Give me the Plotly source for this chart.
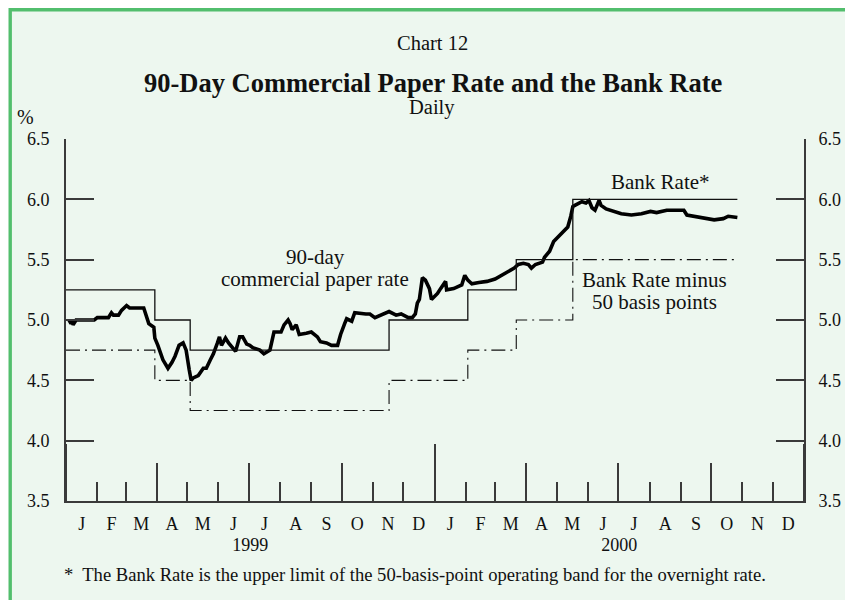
import plotly.graph_objects as go

# ---------------- data ----------------
cp_dates = [
    "1999-01-04", "1999-01-06", "1999-01-07", "1999-01-08", "1999-01-11", "1999-01-29",
    "1999-02-01", "1999-02-12", "1999-02-15", "1999-02-17", "1999-02-22", "1999-02-25",
    "1999-03-02", "1999-03-05", "1999-03-19", "1999-03-22", "1999-03-24", "1999-03-29",
    "1999-03-30", "1999-04-02", "1999-04-07", "1999-04-12", "1999-04-14", "1999-04-16",
    "1999-04-19", "1999-04-21", "1999-04-23", "1999-04-27", "1999-04-30", "1999-05-03",
    "1999-05-05", "1999-05-07", "1999-05-12", "1999-05-17", "1999-05-20", "1999-05-24",
    "1999-05-27", "1999-05-31", "1999-06-02", "1999-06-04", "1999-06-08", "1999-06-11",
    "1999-06-15", "1999-06-18", "1999-06-22", "1999-06-25", "1999-06-29", "1999-07-02",
    "1999-07-05", "1999-07-12", "1999-07-16", "1999-07-22", "1999-07-26", "1999-08-02",
    "1999-08-05", "1999-08-09", "1999-08-11", "1999-08-13", "1999-08-17", "1999-08-20",
    "1999-08-27", "1999-09-01", "1999-09-07", "1999-09-10", "1999-09-16", "1999-09-21",
    "1999-09-27", "1999-09-30", "1999-10-04", "1999-10-06", "1999-10-11", "1999-10-14",
    "1999-10-25", "1999-10-29", "1999-11-03", "1999-11-11", "1999-11-17", "1999-11-24",
    "1999-11-29", "1999-12-06", "1999-12-10", "1999-12-13", "1999-12-15", "1999-12-17",
    "1999-12-20", "1999-12-23", "1999-12-27", "1999-12-29", "2000-01-04", "2000-01-07",
    "2000-01-10", "2000-01-12", "2000-01-13", "2000-01-20", "2000-01-28", "2000-01-31",
    "2000-02-03", "2000-02-07", "2000-02-14", "2000-02-22", "2000-03-01", "2000-03-07",
    "2000-03-14", "2000-03-20", "2000-03-24", "2000-03-29", "2000-04-03", "2000-04-06",
    "2000-04-10", "2000-04-17", "2000-04-19", "2000-04-24", "2000-04-28", "2000-05-04",
    "2000-05-09", "2000-05-12", "2000-05-15", "2000-05-17", "2000-05-19", "2000-05-26",
    "2000-05-30", "2000-06-02", "2000-06-05", "2000-06-08", "2000-06-12", "2000-06-14",
    "2000-06-19", "2000-06-23", "2000-07-04", "2000-07-14", "2000-07-24", "2000-08-02",
    "2000-08-08", "2000-08-18", "2000-09-04", "2000-09-07", "2000-09-14", "2000-09-25",
    "2000-10-04", "2000-10-13", "2000-10-18", "2000-10-27",
]
cp_values = [
    5.00, 4.97, 5.00, 4.96, 5.00, 5.00,
    5.02, 5.02, 5.06, 5.04, 5.04, 5.08,
    5.12, 5.10, 5.10, 5.03, 4.97, 4.94,
    4.85, 4.79, 4.67, 4.60, 4.62, 4.65,
    4.70, 4.74, 4.79, 4.81, 4.75, 4.59,
    4.50, 4.52, 4.54, 4.60, 4.60, 4.67,
    4.72, 4.81, 4.86, 4.79, 4.85, 4.81,
    4.77, 4.74, 4.86, 4.86, 4.80, 4.79,
    4.77, 4.75, 4.72, 4.75, 4.90, 4.90,
    4.96, 5.00, 4.97, 4.92, 4.96, 4.88,
    4.89, 4.90, 4.86, 4.82, 4.81, 4.79,
    4.79, 4.88, 4.97, 5.01, 4.99, 5.06,
    5.05, 5.05, 5.02, 5.05, 5.07, 5.04,
    5.05, 5.02, 5.02, 5.05, 5.14, 5.17,
    5.35, 5.33, 5.26, 5.17, 5.22, 5.26,
    5.30, 5.32, 5.25, 5.26, 5.29, 5.37,
    5.33, 5.30, 5.31, 5.32, 5.34, 5.37,
    5.40, 5.43, 5.46, 5.47, 5.46, 5.43,
    5.46, 5.48, 5.52, 5.57, 5.65, 5.70,
    5.75, 5.77, 5.86, 5.94, 5.95, 5.98,
    5.97, 5.99, 5.93, 5.91, 5.99, 5.95,
    5.92, 5.91, 5.88, 5.87, 5.88, 5.90,
    5.89, 5.91, 5.91, 5.87, 5.86, 5.84,
    5.83, 5.84, 5.86, 5.85,
]

bank_dates = ["1999-01-01", "1999-03-30", "1999-05-04", "1999-11-17",
              "2000-02-03", "2000-03-22", "2000-05-17", "2000-10-27"]
bank_rate = [5.25, 5.00, 4.75, 5.00, 5.25, 5.50, 6.00, 6.00]
bank_minus50 = [4.75, 4.50, 4.25, 4.50, 4.75, 5.00, 5.50, 5.50]

y_ticks = [3.5, 4.0, 4.5, 5.0, 5.5, 6.0, 6.5]
month_alias = {"Jan": "J", "Feb": "F", "Mar": "M", "Apr": "A", "May": "M", "Jun": "J",
               "Jul": "J", "Aug": "A", "Sep": "S", "Oct": "O", "Nov": "N", "Dec": "D"}

# ---------------- layout helpers ----------------
# The page places the figure 8px from the top-left corner (body margin),
# so the figure is sized to fill the rest of the 853x600 window.
OFF = 8
W, H = 853 - OFF, 600 - OFF
# plot area in window pixels
L, R, T, B = 66, 812, 139, 501
def px(x):
    return (x - L) / (R - L)
def py(y):
    return (B - y) / (B - T)

FONT = "Liberation Serif"
INK = "#111111"
AX = "#3a3a3a"
BG = "#EDF7EF"
GREEN = "#52BE6D"
X_RANGE = ["1999-01-01", "2001-01-01"]
Y_RANGE = [3.5, 6.5]

fig = go.Figure()

fig.add_trace(go.Scatter(
    x=bank_dates, y=bank_minus50, mode="lines", line_shape="hv",
    line=dict(color=INK, width=1.1, dash="14px,5px,2px,5px"),
    xaxis="x3", yaxis="y", hoverinfo="skip", showlegend=False))
fig.add_trace(go.Scatter(
    x=bank_dates, y=bank_rate, mode="lines", line_shape="hv",
    line=dict(color=INK, width=1.3),
    xaxis="x2", yaxis="y2", hoverinfo="skip", showlegend=False))
fig.add_trace(go.Scatter(
    x=cp_dates, y=cp_values, mode="lines",
    line=dict(color="#000000", width=3.6),
    xaxis="x", yaxis="y", showlegend=False))

tickfont = dict(family=FONT, size=18, color=INK)

fig.update_layout(
    width=W, height=H,
    margin=dict(l=L - OFF, r=W - (R - OFF), t=T - OFF, b=H - (B - OFF), pad=0),
    paper_bgcolor="white", plot_bgcolor=BG,
    showlegend=False,
    xaxis=dict(type="date", range=X_RANGE, showgrid=False, zeroline=False,
               showline=True, linecolor=AX, linewidth=2,
               tick0="1999-01-01", dtick="M1", ticks="inside", ticklen=19,
               tickwidth=1.5, tickcolor=AX,
               tickformat="%b", ticklabelmode="period", labelalias=month_alias,
               tickfont=tickfont, ticklabelstandoff=5),
    xaxis2=dict(type="date", range=X_RANGE, overlaying="x", anchor="y", side="bottom",
                showgrid=False, zeroline=False, showline=False,
                tick0="1999-01-01", dtick="M3", ticks="inside", ticklen=38,
                tickwidth=1.5, tickcolor=AX, showticklabels=False),
    xaxis3=dict(type="date", range=X_RANGE, overlaying="x", anchor="y", side="bottom",
                showgrid=False, zeroline=False, showline=False,
                tick0="1999-01-01", dtick="M12", ticks="inside", ticklen=57,
                tickwidth=1.5, tickcolor=AX,
                tickformat="%Y", ticklabelmode="period",
                tickfont=tickfont, ticklabelstandoff=31),
    yaxis=dict(range=Y_RANGE, tickvals=y_ticks, tickformat=".1f",
               showgrid=False, zeroline=False, showline=True, linecolor=AX, linewidth=2,
               ticks="inside", ticklen=28, tickwidth=1.5, tickcolor=AX,
               tickfont=tickfont, ticklabelstandoff=11),
    yaxis2=dict(range=Y_RANGE, tickvals=y_ticks, tickformat=".1f", overlaying="y",
                side="right", anchor="x",
                showgrid=False, zeroline=False, showline=True, linecolor=AX, linewidth=2,
                ticks="inside", ticklen=28, tickwidth=1.5, tickcolor=AX,
                tickfont=tickfont, ticklabelstandoff=9),
)

# green frame with light background (extends past right/bottom edges)
fig.add_shape(type="rect", xref="paper", yref="paper",
              x0=px(9.6), x1=px(880), y0=py(640), y1=py(9.8),
              fillcolor=BG, line=dict(color=GREEN, width=3.4), layer="below")

def txt(text, x, y, size, xref="paper", yref="paper", bold=False):
    fig.add_annotation(text=f"<b>{text}</b>" if bold else text, x=x, y=y,
                       xref=xref, yref=yref, showarrow=False,
                       xanchor="center", yanchor="middle",
                       font=dict(family=FONT, size=size, color=INK))

txt("Chart 12", px(436), py(43), 20.5)
txt("90-Day Commercial Paper Rate and the Bank Rate", px(437), py(83), 26.5, bold=True)
txt("Daily", px(436), py(108), 20.5)
txt("%", px(25), py(117), 20)
txt("*  The Bank Rate is the upper limit of the 50-basis-point operating band for the overnight rate.",
    px(419), py(574), 18.6)

txt("90-day", "1999-09-05", 5.52, 21, xref="x", yref="y")
txt("commercial paper rate", "1999-09-05", 5.34, 21, xref="x", yref="y")
txt("Bank Rate*", "2000-08-12", 6.14, 21, xref="x", yref="y")
txt("Bank Rate minus", "2000-08-06", 5.33, 21, xref="x", yref="y")
txt("50 basis points", "2000-08-06", 5.15, 21, xref="x", yref="y")

fig.write_html("out.html")
